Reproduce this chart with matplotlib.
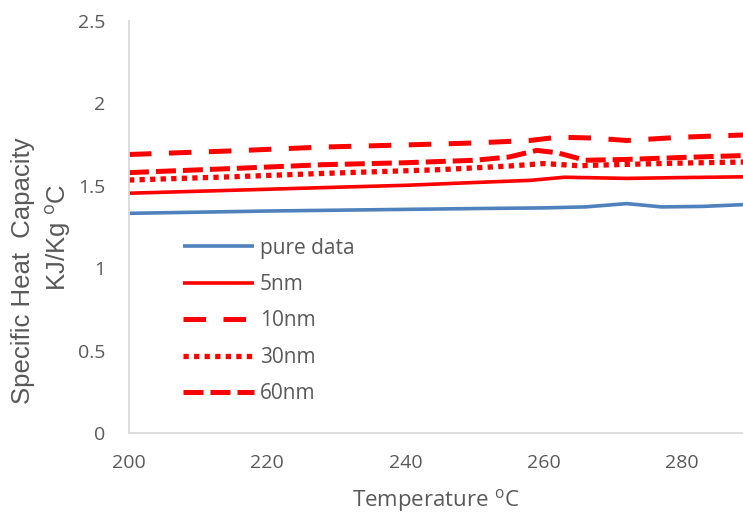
import numpy as np
import matplotlib.pyplot as plt

# donnees
temp_pure = [200, 210, 220, 230, 240, 250, 260, 266, 272, 277, 283, 290]
cp_pure = [1.333, 1.340, 1.347, 1.352, 1.357, 1.362, 1.366, 1.372, 1.392, 1.372, 1.375, 1.388]

temp_5 = [200, 210, 220, 228, 240, 250, 258, 263, 272, 280, 290]
cp_5 = [1.455, 1.467, 1.479, 1.489, 1.503, 1.520, 1.533, 1.552, 1.545, 1.550, 1.555]

temp_10 = [200, 215, 228, 240, 250, 258, 262, 267, 272, 280, 290]
cp_10 = [1.690, 1.712, 1.735, 1.748, 1.760, 1.775, 1.795, 1.790, 1.775, 1.795, 1.810]

temp_30 = [200, 215, 228, 245, 255, 260, 265, 272, 280, 290]
cp_30 = [1.535, 1.555, 1.575, 1.598, 1.620, 1.635, 1.622, 1.630, 1.638, 1.645]

temp_60 = [200, 215, 228, 240, 250, 255, 259, 262, 266, 272, 280, 290]
cp_60 = [1.580, 1.605, 1.628, 1.640, 1.655, 1.675, 1.715, 1.700, 1.655, 1.660, 1.672, 1.685]

plt.rcParams['mathtext.fontset'] = 'custom'
plt.rcParams['mathtext.rm'] = 'Open Sans'

gris = '#595959'
rouge = '#FF0000'

fig = plt.figure(figsize=(7.43, 5.18), dpi=100)
ax = fig.add_axes([0.1736, 0.164, 0.8264, 0.7955])

ax.plot(temp_pure, cp_pure, color='#4F81BD', lw=2.6, label='pure data', solid_capstyle='butt')
ax.plot(temp_5, cp_5, color=rouge, lw=2.6, label='5nm', solid_capstyle='butt')
ax.plot(temp_10, cp_10, color=rouge, lw=3.6, dashes=(4.5, 3.5), label='10nm')
ax.plot(temp_30, cp_30, color=rouge, lw=3.8, dashes=(1, 1), label='30nm')
ax.plot(temp_60, cp_60, color=rouge, lw=3.6, dashes=(4, 1.4), label='60nm')

ax.set_xlim(200, 288.8)
ax.set_ylim(0, 2.5)
ax.set_xticks([200, 220, 240, 260, 280])
ax.set_yticks([0, 0.5, 1, 1.5, 2, 2.5])
ax.set_yticklabels(['0', '0.5', '1', '1.5', '2', '2.5'])

for s in ['top', 'right']:
    ax.spines[s].set_visible(False)
for s in ['left', 'bottom']:
    ax.spines[s].set_color('#D9D9D9')
    ax.spines[s].set_linewidth(1.3)

ax.tick_params(axis='y', length=0, pad=17, labelsize=14, labelcolor=gris)
ax.tick_params(axis='x', length=0, pad=15, labelsize=14, labelcolor=gris)
for t in ax.get_xticklabels() + ax.get_yticklabels():
    t.set_fontfamily('Open Sans')

ax.set_xlabel('Temperature $^{\\mathrm{o}}$C', fontsize=16, color=gris,
              fontfamily='Open Sans', labelpad=11)

# titre de l'axe y sur deux lignes (la 2e est decalee vers le haut)
fig.text(0.031, 0.477, 'Specific Heat  Capacity', rotation=90, ha='center', va='center',
         fontsize=18.5, color=gris, fontfamily='Liberation Sans')
fig.text(0.078, 0.5425, 'KJ/Kg $^{\\mathrm{o}}$C', rotation=90, ha='center', va='center',
         fontsize=18.5, color=gris, fontfamily='Liberation Sans')

leg = ax.legend(loc='upper left', bbox_to_anchor=(0.235, 0.5575), bbox_transform=fig.transFigure,
                frameon=False, handlelength=3.4, labelspacing=0.74, borderaxespad=0,
                handletextpad=0.3, prop={'family': 'Open Sans', 'size': 15})
for t in leg.get_texts():
    t.set_color(gris)

fig.savefig('out.png', dpi=100)
